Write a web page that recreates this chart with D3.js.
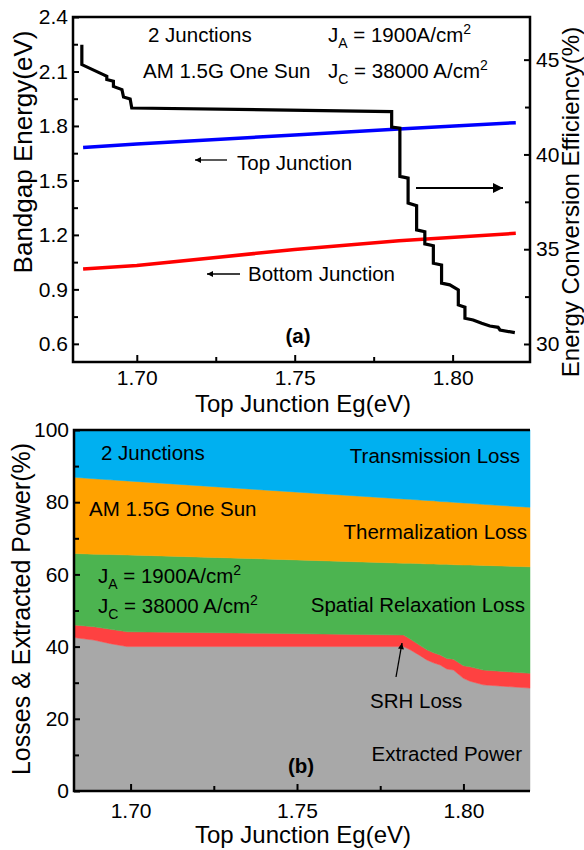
<!DOCTYPE html>
<html>
<head>
<meta charset="utf-8">
<script src="https://cdn.jsdelivr.net/npm/d3@7"></script>
<style>
  html, body { margin: 0; padding: 0; background: #fff; }
  svg { display: block; font-family: Arial, "Liberation Sans", sans-serif; }
</style>
</head>
<body>
<svg id="chart" width="584" height="850"></svg>
<script>
// (a) bandgaps of the two junctions vs top junction Eg
const bandgapX = [1.683, 1.70, 1.75, 1.783, 1.82];
const topJunction = [1.681, 1.700, 1.750, 1.783, 1.818];
const bottomJunction = [1.012, 1.031, 1.120, 1.168, 1.209];

// (a) efficiency (right axis), stepped curve
const effX = [1.6826, 1.6826, 1.6894, 1.6905, 1.6905, 1.6926, 1.6926, 1.6953, 1.6958, 1.6979, 1.6984,
  1.7807, 1.7807, 1.7833, 1.7833, 1.7859, 1.7859, 1.7886, 1.7886, 1.7912, 1.7912, 1.7939, 1.7939,
  1.7965, 1.7965, 1.7991, 1.8018, 1.8018, 1.8039, 1.8039, 1.8065, 1.8092, 1.8118, 1.8144, 1.8150, 1.8197];
const effVal = [45.79, 44.74, 44.21, 44.12, 43.95, 43.86, 43.59, 43.42, 43.03, 42.93, 42.45,
  42.26, 41.44, 41.39, 38.84, 38.75, 37.43, 37.29, 36.02, 35.92, 35.28, 35.18, 34.26,
  34.17, 33.21, 33.12, 32.85, 32.06, 31.94, 31.36, 31.27, 31.09, 30.95, 30.88, 30.74, 30.60];

// (b) losses and extracted power (%), stacked bottom -> top
const lossX = [1.683, 1.689, 1.694, 1.699, 1.74, 1.782, 1.784, 1.787, 1.789, 1.791, 1.793, 1.795, 1.797, 1.800, 1.802, 1.806, 1.82];
const extracted = [42.5, 41.8, 40.8, 40.0, 40.0, 40.0, 39.1, 37.5, 36.3, 35.5, 34.9, 33.8, 33.5, 31.2, 30.4, 29.4, 28.5];
const srhLoss = [3.5, 3.7, 4.0, 4.1, 3.7, 3.2, 3.0, 2.8, 2.8, 2.8, 2.8, 2.9, 3.0, 3.5, 4.0, 4.1, 4.1];
const spatialLoss = [19.8, 20.1, 20.7, 21.3, 20.6, 19.9, 21.0, 22.7, 23.8, 24.6, 25.1, 26.1, 26.2, 27.9, 28.2, 29.0, 29.5];
const thermalLoss = [21.1, 20.9, 20.7, 20.5, 19.1, 17.8, 17.7, 17.6, 17.6, 17.5, 17.4, 17.3, 17.3, 17.2, 17.1, 16.9, 16.5];
const transmissionLoss = [13.1, 13.5, 13.8, 14.1, 16.6, 19.1, 19.2, 19.4, 19.5, 19.6, 19.8, 19.9, 20.0, 20.2, 20.3, 20.6, 21.4];

const layerKeys = ["extracted", "srh", "spatial", "thermal", "transmission"];
const layerColors = ["#a8a8a8", "#fe4141", "#4cb450", "#ffa200", "#00b0f0"];

const TICK_FONT = 21;
const TITLE_FONT = 24;
const NOTE_FONT = 20.5;

const svg = d3.select("#chart");

const defs = svg.append("defs");
defs.append("marker")
  .attr("id", "thinArrow")
  .attr("viewBox", "0 -5 10 10")
  .attr("refX", 10).attr("refY", 0)
  .attr("markerUnits", "userSpaceOnUse")
  .attr("markerWidth", 9).attr("markerHeight", 6)
  .attr("orient", "auto")
  .append("path").attr("d", "M0,-5L10,0L0,5Z").attr("fill", "#000");
defs.append("marker")
  .attr("id", "thickArrow")
  .attr("viewBox", "0 -5 10 10")
  .attr("refX", 10).attr("refY", 0)
  .attr("markerUnits", "userSpaceOnUse")
  .attr("markerWidth", 15).attr("markerHeight", 10)
  .attr("orient", "auto")
  .append("path").attr("d", "M0,-5L10,0L0,5Z").attr("fill", "#000");

function styleAxis(g) {
  g.select(".domain").remove();
  g.selectAll(".tick line").attr("stroke", "#000").attr("stroke-width", 2);
  g.selectAll(".tick text").attr("font-size", TICK_FONT).attr("fill", "#000")
    .attr("font-family", "Arial, 'Liberation Sans', sans-serif");
}

function note(g, x, y, txt, anchor) {
  return g.append("text").attr("x", x).attr("y", y)
    .attr("font-size", NOTE_FONT).attr("text-anchor", anchor || "start").text(txt);
}

function jLabel(g, x, y, sub, rest) {
  const t = g.append("text").attr("x", x).attr("y", y).attr("font-size", NOTE_FONT);
  t.append("tspan").text("J");
  t.append("tspan").attr("font-size", 14).attr("dy", 6).text(sub);
  t.append("tspan").attr("dy", -6).text(rest);
  t.append("tspan").attr("font-size", 14).attr("dy", -8).text("2");
}

function arrow(g, x1, y1, x2, y2, thick) {
  g.append("line")
    .attr("x1", x1).attr("y1", y1).attr("x2", x2).attr("y2", y2)
    .attr("stroke", "#000").attr("stroke-width", thick ? 2.2 : 1.3)
    .attr("marker-end", thick ? "url(#thickArrow)" : "url(#thinArrow)");
}

// ---------- panel (a) ----------
const A = { left: 73, right: 530, top: 17, bottom: 362 };
const xA = d3.scaleLinear().domain([1.6798, 1.8245]).range([A.left, A.right]);
const yA = d3.scaleLinear().domain([0.5, 2.4]).range([A.bottom, A.top]);
const yR = d3.scaleLinear().domain([29.05, 47.25]).range([A.bottom, A.top]);

const gA = svg.append("g");

const lineA = d3.line().x((d) => xA(d[0])).y((d) => yA(d[1]));
gA.append("path")
  .attr("d", lineA(bandgapX.map((x, i) => [x, topJunction[i]])))
  .attr("fill", "none").attr("stroke", "#0000ff").attr("stroke-width", 3.5);
gA.append("path")
  .attr("d", lineA(bandgapX.map((x, i) => [x, bottomJunction[i]])))
  .attr("fill", "none").attr("stroke", "#ff0000").attr("stroke-width", 3.5);

const effLine = d3.line().x((d) => xA(d[0])).y((d) => yR(d[1]));
gA.append("path")
  .attr("d", effLine(effX.map((x, i) => [x, effVal[i]])))
  .attr("fill", "none").attr("stroke", "#000").attr("stroke-width", 3.2)
  .attr("stroke-linejoin", "miter");

// axes (inward ticks)
gA.append("g").attr("transform", `translate(0,${A.bottom})`)
  .call(d3.axisBottom(xA).tickValues([1.70, 1.75, 1.80]).tickFormat(d3.format(".2f")).tickSize(-7).tickPadding(8))
  .call(styleAxis);
gA.append("g").attr("transform", `translate(0,${A.bottom})`)
  .call(d3.axisBottom(xA).tickValues([1.725, 1.775]).tickFormat("").tickSize(-5))
  .call(styleAxis);
gA.append("g").attr("transform", `translate(${A.left},0)`)
  .call(d3.axisLeft(yA).tickValues([0.6, 0.9, 1.2, 1.5, 1.8, 2.1, 2.4]).tickFormat(d3.format(".1f")).tickSize(-6).tickPadding(5))
  .call(styleAxis);
gA.append("g").attr("transform", `translate(${A.left},0)`)
  .call(d3.axisLeft(yA).tickValues([0.75, 1.05, 1.35, 1.65, 1.95, 2.25]).tickFormat("").tickSize(-5))
  .call(styleAxis);
gA.append("g").attr("transform", `translate(${A.right},0)`)
  .call(d3.axisRight(yR).tickValues([30, 35, 40, 45]).tickFormat(d3.format("d")).tickSize(-6).tickPadding(6))
  .call(styleAxis);
gA.append("g").attr("transform", `translate(${A.right},0)`)
  .call(d3.axisRight(yR).tickValues([32.5, 37.5, 42.5]).tickFormat("").tickSize(-5))
  .call(styleAxis);

gA.append("rect")
  .attr("x", A.left).attr("y", A.top)
  .attr("width", A.right - A.left).attr("height", A.bottom - A.top)
  .attr("fill", "none").attr("stroke", "#000").attr("stroke-width", 2.5);

// titles
gA.append("text").attr("x", 303).attr("y", 412).attr("text-anchor", "middle")
  .attr("font-size", TITLE_FONT).text("Top Junction Eg(eV)");
gA.append("text").attr("transform", "translate(32,152) rotate(-90)")
  .attr("text-anchor", "middle").attr("font-size", 26).text("Bandgap Energy(eV)");
gA.append("text").attr("transform", "translate(579,202) rotate(-90)")
  .attr("text-anchor", "middle").attr("font-size", TITLE_FONT).text("Energy Conversion Efficiency(%)");

// annotations
note(gA, 148, 42, "2 Junctions");
note(gA, 143, 78, "AM 1.5G One Sun");
jLabel(gA, 328, 42, "A", " = 1900A/cm");
jLabel(gA, 328, 78, "C", " = 38000 A/cm");
note(gA, 237, 170, "Top Junction");
arrow(gA, 227, 160, 195, 160, false);
note(gA, 248, 281, "Bottom Junction");
arrow(gA, 240, 274, 207, 274, false);
arrow(gA, 416, 188, 503, 188, true);
gA.append("text").attr("x", 298).attr("y", 343).attr("text-anchor", "middle")
  .attr("font-size", NOTE_FONT).attr("font-weight", "bold").text("(a)");

// ---------- panel (b) ----------
const B = { left: 74, right: 530, top: 430, bottom: 791 };
const xB = d3.scaleLinear().domain([1.683, 1.82]).range([B.left, B.right]);
const yB = d3.scaleLinear().domain([0, 100]).range([B.bottom, B.top]);

const rows = lossX.map((x, i) => ({
  x,
  extracted: extracted[i],
  srh: srhLoss[i],
  spatial: spatialLoss[i],
  thermal: thermalLoss[i],
  transmission: transmissionLoss[i],
}));
const stacked = d3.stack().keys(layerKeys)(rows);

const gB = svg.append("g");
const area = d3.area()
  .x((d) => xB(d.data.x))
  .y0((d) => yB(d[0]))
  .y1((d) => yB(d[1]));

gB.selectAll("path.layer")
  .data(stacked)
  .enter()
  .append("path")
  .attr("class", "layer")
  .attr("d", area)
  .attr("fill", (d, i) => layerColors[i])
  .attr("stroke", (d, i) => layerColors[i])
  .attr("stroke-width", 0.5);

gB.append("g").attr("transform", `translate(0,${B.bottom})`)
  .call(d3.axisBottom(xB).tickValues([1.70, 1.75, 1.80]).tickFormat(d3.format(".2f")).tickSize(-7).tickPadding(12))
  .call(styleAxis);
gB.append("g").attr("transform", `translate(0,${B.bottom})`)
  .call(d3.axisBottom(xB).tickValues([1.725, 1.775]).tickFormat("").tickSize(-5))
  .call(styleAxis);
gB.append("g").attr("transform", `translate(${B.left},0)`)
  .call(d3.axisLeft(yB).tickValues([0, 20, 40, 60, 80, 100]).tickFormat(d3.format("d")).tickSize(-6).tickPadding(5))
  .call(styleAxis);
gB.append("g").attr("transform", `translate(${B.left},0)`)
  .call(d3.axisLeft(yB).tickValues([10, 30, 50, 70, 90]).tickFormat("").tickSize(-5))
  .call(styleAxis);

// frame: left, bottom, top
gB.append("path")
  .attr("d", `M${B.right},${B.top}H${B.left}V${B.bottom}H${B.right}`)
  .attr("fill", "none").attr("stroke", "#000").attr("stroke-width", 2.5);

gB.append("text").attr("x", 303).attr("y", 843).attr("text-anchor", "middle")
  .attr("font-size", TITLE_FONT).text("Top Junction Eg(eV)");
gB.append("text").attr("transform", "translate(30,609) rotate(-90)")
  .attr("text-anchor", "middle").attr("font-size", 25).text("Losses & Extracted Power(%)");

note(gB, 101, 460, "2 Junctions");
note(gB, 520, 463, "Transmission Loss", "end");
note(gB, 89, 516, "AM 1.5G One Sun");
note(gB, 527, 539, "Thermalization Loss", "end");
jLabel(gB, 98, 583, "A", " = 1900A/cm");
jLabel(gB, 98, 613, "C", " = 38000 A/cm");
note(gB, 525, 612, "Spatial Relaxation Loss", "end");
note(gB, 370, 708, "SRH Loss");
arrow(gB, 396, 677, 402, 643, false);
note(gB, 522, 761, "Extracted Power", "end");
gB.append("text").attr("x", 301).attr("y", 773).attr("text-anchor", "middle")
  .attr("font-size", NOTE_FONT).attr("font-weight", "bold").text("(b)");
</script>
</body>
</html>
